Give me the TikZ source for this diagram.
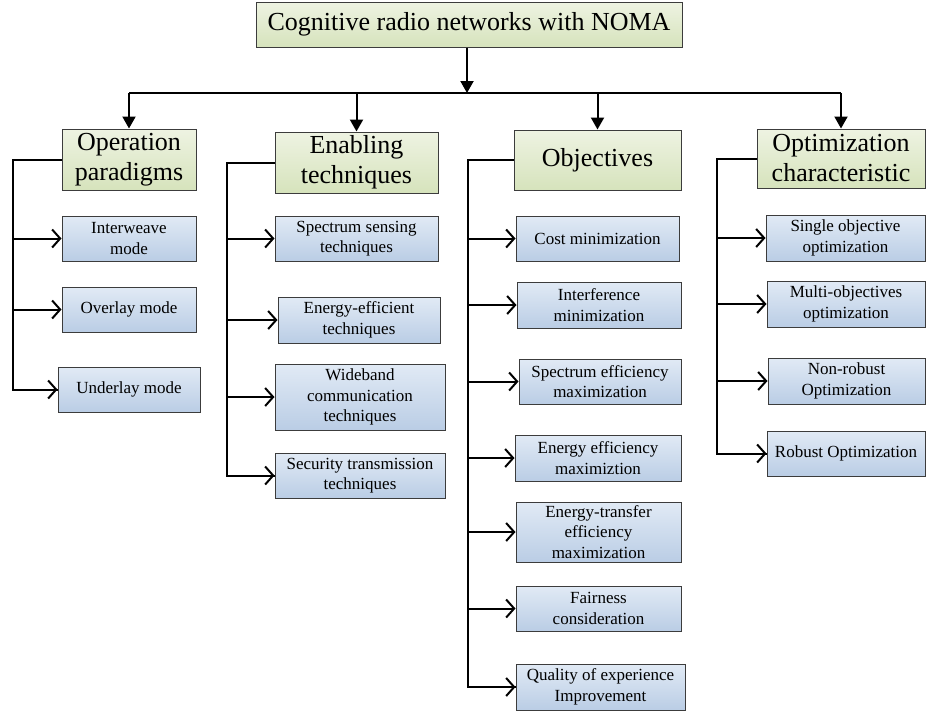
\documentclass[tikz,border=0pt]{standalone}
\usepackage{fontspec}
\setmainfont{Liberation Serif}
\usepackage{tikz}
\usetikzlibrary
  {
    arrows.meta,              % arrow heads
    positioning,              % place nodes relative to other nodes
    calc,
  }

\definecolor{headtop}{RGB}{238,243,226}
\definecolor{headbot}{RGB}{214,227,188}
\definecolor{leaftop}{RGB}{225,234,245}
\definecolor{leafbot}{RGB}{186,205,229}
\definecolor{boxline}{RGB}{60,60,60}

\tikzset{
  head/.style={draw=boxline, line width=1pt, top color=headtop, bottom color=headbot,
    align=center, inner sep=2pt, font=\fontsize{26}{30}\selectfont},
  leaf/.style={draw=boxline, line width=1pt, top color=leaftop, bottom color=leafbot,
    align=center, inner sep=2pt, font=\fontsize{17}{20.5}\selectfont},
  down/.style={line width=2pt, -{Triangle[width=13pt,length=12pt]}},
  rail/.style={line width=2pt},
  side/.style={line width=2pt, -{Straight Barb[width=18pt,length=8pt]}},
}

\begin{document}
\begin{tikzpicture}[x=1pt, y=-1pt]
    \useasboundingbox (0,0) rectangle (926,713);

    % top level
    \node (root) [head, minimum width=426pt, minimum height=45pt] at (469,24.5)
      {Cognitive radio networks with NOMA};

    \node (op) [head, minimum width=134pt, minimum height=61pt] at (129,159.5)
      {Operation\\paradigms};
    \node (en) [head, minimum width=163pt, minimum height=61pt] at (356.5,162.5)
      {Enabling\\techniques};
    \node (ob) [head, minimum width=167pt, minimum height=60pt] at (597.5,160)
      {Objectives};
    \node (oc) [head, minimum width=168pt, minimum height=59pt] at (841,158.5)
      {Optimization\\characteristic};

    % operation paradigms
    \node (op1) [leaf, minimum width=134pt, minimum height=45pt] at (129,238.5) {Interweave\\mode};
    \node (op2) [leaf, minimum width=134pt, minimum height=45pt] at (129,309.5) {Overlay mode};
    \node (op3) [leaf, minimum width=142pt, minimum height=45pt] at (129,389.5) {Underlay mode};

    % enabling techniques
    \node (en1) [leaf, minimum width=163pt, minimum height=45pt] at (356.5,238.5) {Spectrum sensing\\techniques};
    \node (en2) [leaf, minimum width=162pt, minimum height=46pt] at (359,320) {Energy-efficient\\techniques};
    \node (en3) [leaf, minimum width=170pt, minimum height=66pt] at (360,397) {Wideband\\communication\\techniques};
    \node (en4) [leaf, minimum width=170pt, minimum height=45pt] at (360,475.5) {Security transmission\\techniques};

    % objectives
    \node (ob1) [leaf, minimum width=163pt, minimum height=45pt] at (597.5,238.5) {Cost minimization};
    \node (ob2) [leaf, minimum width=164pt, minimum height=46pt] at (599,305) {Interference\\minimization};
    \node (ob3) [leaf, minimum width=162pt, minimum height=45pt] at (600,381.5) {Spectrum efficiency\\maximization};
    \node (ob4) [leaf, minimum width=166pt, minimum height=46pt] at (598,458) {Energy efficiency\\maximiztion};
    \node (ob5) [leaf, minimum width=165pt, minimum height=60pt] at (598.5,532) {Energy-transfer\\efficiency\\maximization};
    \node (ob6) [leaf, minimum width=165pt, minimum height=45pt] at (598.5,608.5) {Fairness\\consideration};
    \node (ob7) [leaf, minimum width=169pt, minimum height=46pt] at (600.5,687) {Quality of experience\\Improvement};

    % optimization characteristic
    \node (oc1) [leaf, minimum width=159pt, minimum height=46pt] at (845.5,238) {Single objective\\optimization};
    \node (oc2) [leaf, minimum width=158pt, minimum height=46pt] at (846,304) {Multi-objectives\\optimization};
    \node (oc3) [leaf, minimum width=157pt, minimum height=46pt] at (846.5,381) {Non-robust\\Optimization};
    \node (oc4) [leaf, minimum width=158pt, minimum height=45pt] at (846,453.5) {Robust Optimization};

    % root to headings
    \coordinate (bus) at (467,93);
    \draw [down] (root.south -| bus) -- (bus);
    \draw [rail] (op.north |- bus) -- (oc.north |- bus);
    \foreach \h in {op,en,ob,oc}
      \draw [down] (\h.north |- bus) -- (\h.north);

    % headings to leaves
    \draw [rail] (op.west) -- ++(-49,0) coordinate (opR) |- (op3.west);
    \draw [rail] (en.west) -- ++(-48,0) coordinate (enR) |- (en4.west);
    \draw [rail] (ob.west) -- ++(-46,0) coordinate (obR) |- (ob7.west);
    \draw [rail] (oc.west) -- ++(-40,0) coordinate (ocR) |- (oc4.west);

    \foreach \l in {op1,op2,op3}
      \draw [side] (opR |- \l.west) -- (\l.west);
    \foreach \l in {en1,en2,en3,en4}
      \draw [side] (enR |- \l.west) -- (\l.west);
    \foreach \l in {ob1,ob2,ob3,ob4,ob5,ob6,ob7}
      \draw [side] (obR |- \l.west) -- (\l.west);
    \foreach \l in {oc1,oc2,oc3,oc4}
      \draw [side] (ocR |- \l.west) -- (\l.west);
  \end{tikzpicture}
\end{document}
